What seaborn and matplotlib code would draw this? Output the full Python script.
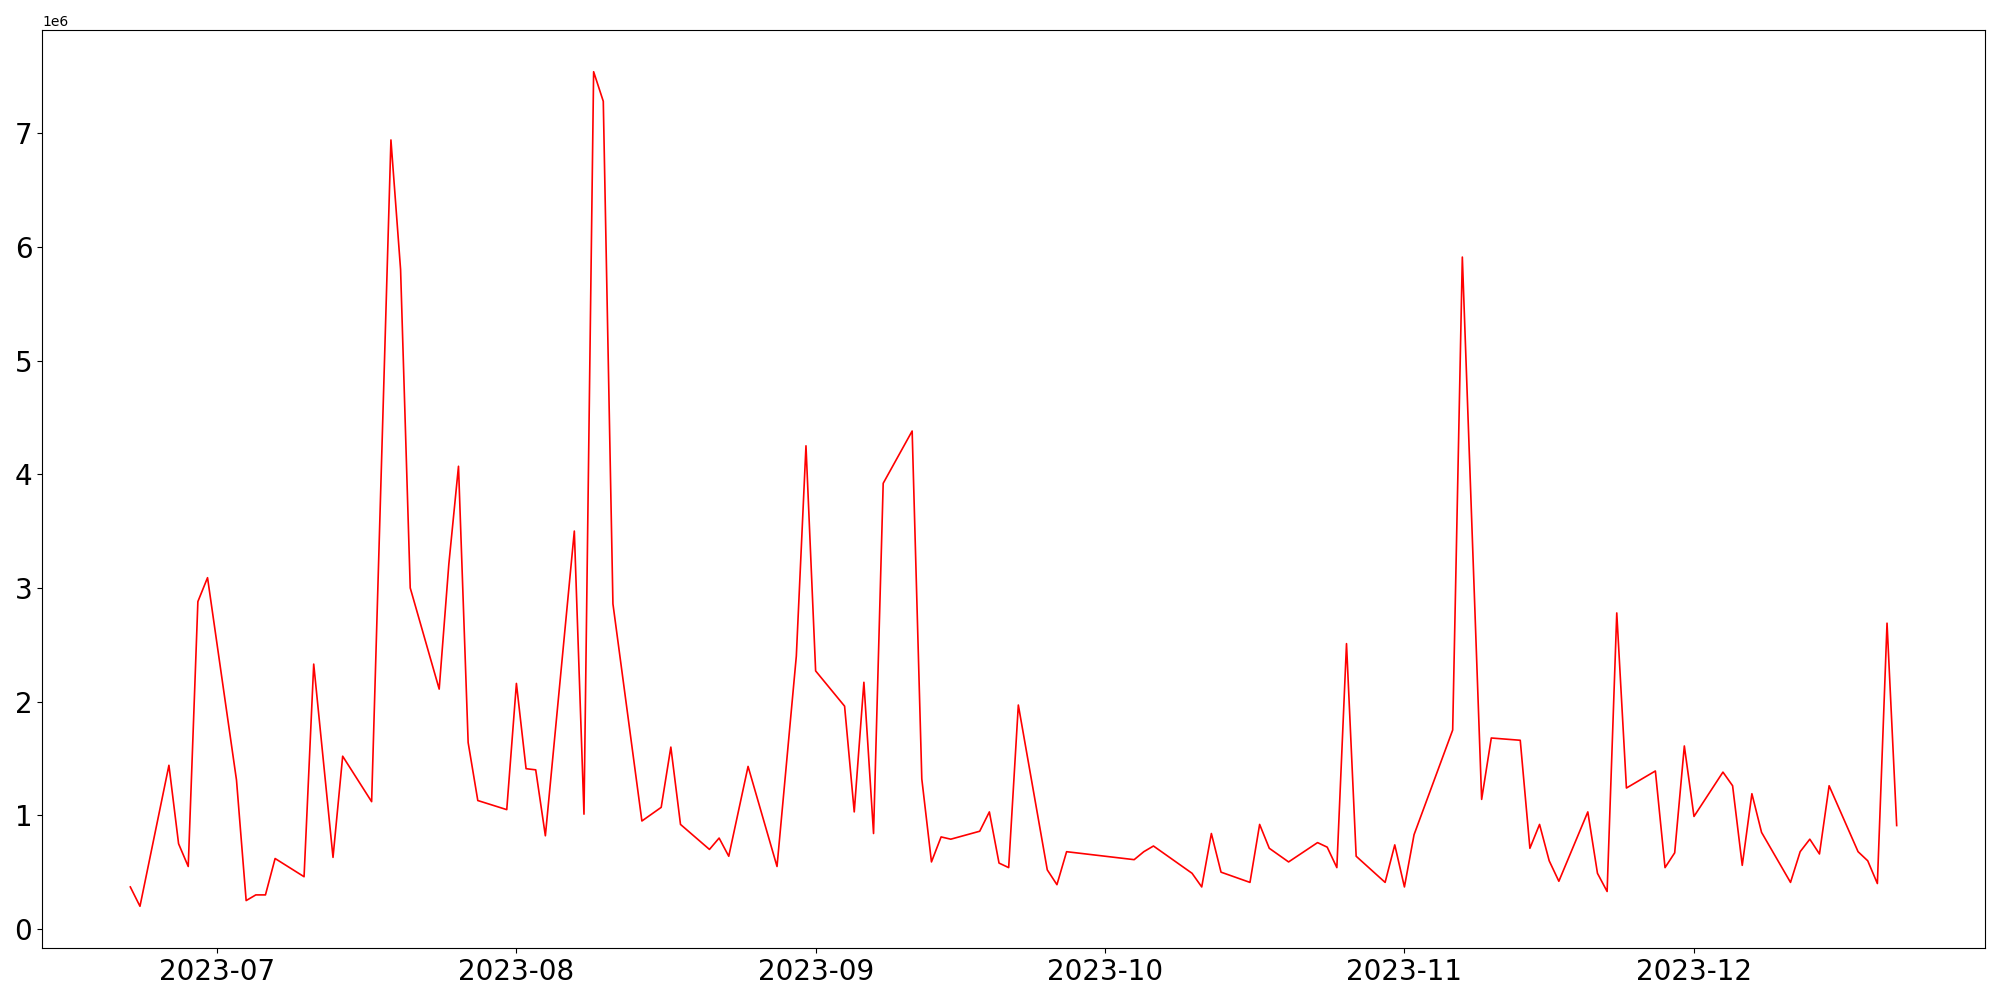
import pandas as pd
from matplotlib import pyplot as plt
import seaborn as sns

# trading days (some days have no value)
dates = [
    '2023-06-22', '2023-06-23', '2023-06-26', '2023-06-27', '2023-06-28', '2023-06-29', '2023-06-30',
    '2023-07-03', '2023-07-04', '2023-07-05', '2023-07-06', '2023-07-07', '2023-07-10', '2023-07-11',
    '2023-07-13', '2023-07-14', '2023-07-17', '2023-07-19', '2023-07-20', '2023-07-21', '2023-07-24',
    '2023-07-25', '2023-07-26', '2023-07-27', '2023-07-28', '2023-07-31',
    '2023-08-01', '2023-08-02', '2023-08-03', '2023-08-04', '2023-08-07', '2023-08-08', '2023-08-09',
    '2023-08-10', '2023-08-11', '2023-08-14', '2023-08-16', '2023-08-17', '2023-08-18', '2023-08-21',
    '2023-08-22', '2023-08-23', '2023-08-25', '2023-08-28', '2023-08-30', '2023-08-31',
    '2023-09-01', '2023-09-04', '2023-09-05', '2023-09-06', '2023-09-07', '2023-09-08', '2023-09-11',
    '2023-09-12', '2023-09-13', '2023-09-14', '2023-09-15', '2023-09-18', '2023-09-19', '2023-09-20',
    '2023-09-21', '2023-09-22', '2023-09-25', '2023-09-26', '2023-09-27',
    '2023-10-04', '2023-10-05', '2023-10-06', '2023-10-10', '2023-10-11', '2023-10-12', '2023-10-13',
    '2023-10-16', '2023-10-17', '2023-10-18', '2023-10-19', '2023-10-20', '2023-10-23', '2023-10-24',
    '2023-10-25', '2023-10-26', '2023-10-27', '2023-10-30', '2023-10-31',
    '2023-11-01', '2023-11-02', '2023-11-06', '2023-11-07', '2023-11-09', '2023-11-10',
    '2023-11-13', '2023-11-14', '2023-11-15', '2023-11-16', '2023-11-17', '2023-11-20', '2023-11-21',
    '2023-11-22', '2023-11-23', '2023-11-24', '2023-11-27', '2023-11-28', '2023-11-29', '2023-11-30',
    '2023-12-01', '2023-12-04', '2023-12-05', '2023-12-06', '2023-12-07', '2023-12-08', '2023-12-11',
    '2023-12-12', '2023-12-13', '2023-12-14', '2023-12-15', '2023-12-18', '2023-12-19', '2023-12-20',
    '2023-12-21', '2023-12-22',
]

# values in millions
values_m = [
    0.37, 0.20, 1.44, 0.75, 0.55, 2.88, 3.09,
    1.31, 0.25, 0.30, 0.30, 0.62, 0.46, 2.33, 0.63, 1.52, 1.12, 6.94, 5.80, 3.00,
    2.11, 3.21, 4.07, 1.64, 1.13, 1.05,
    2.16, 1.41, 1.40, 0.82, 3.50, 1.01, 7.54, 7.28, 2.86, 0.95, 1.07, 1.60, 0.92,
    0.70, 0.80, 0.64, 1.43, 0.55, 2.40, 4.25,
    2.27, 1.96, 1.03, 2.17, 0.84, 3.92, 4.38, 1.32, 0.59, 0.81, 0.79, 0.86, 1.03,
    0.58, 0.54, 1.97, 0.52, 0.39, 0.68,
    0.61, 0.68, 0.73, 0.49, 0.37, 0.84, 0.50, 0.41, 0.92, 0.71, 0.65, 0.59, 0.76,
    0.72, 0.54, 2.51, 0.64, 0.41, 0.74,
    0.37, 0.83, 1.75, 5.91, 1.14, 1.68, 1.66, 0.71, 0.92, 0.60, 0.42, 1.03,
    0.49, 0.33, 2.78, 1.24, 1.39, 0.54, 0.67, 1.61,
    0.99, 1.38, 1.26, 0.56, 1.19, 0.85, 0.41, 0.68, 0.79, 0.66, 1.26, 0.68, 0.60,
    0.40, 2.69, 0.91,
]

df = pd.DataFrame({'date': pd.to_datetime(dates),
                   'value': [v * 1e6 for v in values_m]})

fig, ax = plt.subplots(figsize=(20, 10), dpi=100)
sns.lineplot(data=df, x='date', y='value', color='red', linewidth=1.2, ax=ax)

ax.set_xlabel('')
ax.set_ylabel('')
plt.xticks(fontsize=20)
plt.yticks(fontsize=20)

plt.subplots_adjust(left=0.021, right=0.9925, bottom=0.052, top=0.97)
plt.savefig('out.png')
